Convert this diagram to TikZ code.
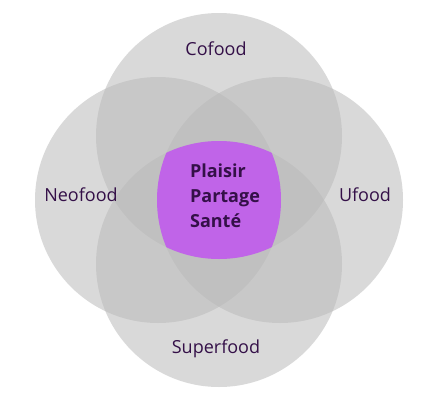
\documentclass[tikz,border=0pt]{standalone}
\usepackage{fontspec}
\setmainfont{Open Sans}
\definecolor{ringgray}{RGB}{186,186,186}
\definecolor{corepurple}{RGB}{192,100,232}
\definecolor{labelpurple}{RGB}{52,16,72}
\begin{document}
\begin{tikzpicture}[x=1pt,y=-1pt,%
% common options for the circles:
ring/.style = {fill=ringgray, fill opacity=0.55},
% common options for the labels:
food/.style = {text=labelpurple, font=\fontsize{18}{22}\selectfont, inner sep=0}]
\useasboundingbox (0,0) rectangle (442,402);
\fill[ring] (219,136) circle (123);
\fill[ring] (158,200) circle (123);
\fill[ring] (280,200) circle (123);
\fill[ring] (219,264) circle (123);
\begin{scope}
\clip (219,136) circle (123);
\clip (158,200) circle (123);
\clip (280,200) circle (123);
\fill[corepurple] (219,264) circle (123);
\end{scope}
\node[food] (C0) at (216,49) {Cofood};
\node[food] (N0) at (81,195) {Neofood};
\node[food] (U0) at (365,195) {Ufood};
\node[food] (S0) at (216,349) {Superfood};
\node[text=labelpurple, font=\fontsize{18}{25}\selectfont\bfseries, align=left, inner sep=0] (P0) at (225,196) {Plaisir\\Partage\\Santé};
\end{tikzpicture}
\end{document}
